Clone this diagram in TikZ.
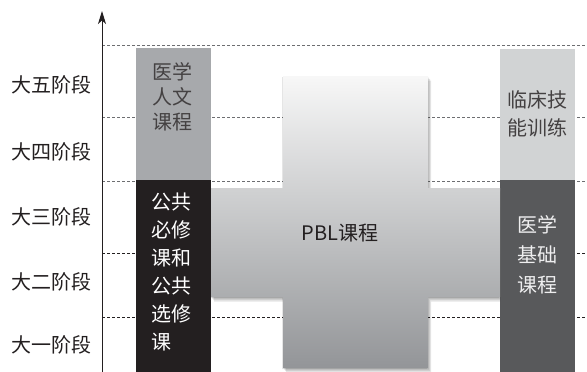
\documentclass[tikz,border=0pt]{standalone}
\usepackage{fontspec}
\newfontfamily\cjk{Noto Sans CJK SC}
\usetikzlibrary{arrows.meta}
\definecolor{ink}{HTML}{231F20}
\definecolor{humgray}{HTML}{A7A9AC}
\definecolor{clinlight}{HTML}{D1D3D4}
\definecolor{basedark}{HTML}{58595B}
\definecolor{pblbot}{HTML}{939598}
\definecolor{dashgray}{HTML}{6D6E71}
\def\pblcross{(283,76) -- (428,76) -- (428,188) -- (500,188) -- (500,297) -- (428,297)
  -- (428,368) -- (283,368) -- (283,297) -- (211,297) -- (211,188) -- (283,188) -- cycle}
\begin{document}
\begin{tikzpicture}[x=1pt,y=-1pt,
  gridline/.style={dash pattern=on 3pt off 2pt, line width=0.6pt, draw=dashgray},
  gridlinedark/.style={dash pattern=on 3pt off 2pt, line width=0.6pt, draw=ink},
  stage/.style={font=\cjk\fontsize{20}{23}\selectfont, text=ink, inner sep=0},
  colbox/.style={anchor=north west, inner sep=0, minimum width=75pt, draw=none},
  boxtxt/.style={inner sep=0, font=\cjk\fontsize{19}{26}\selectfont},
  shadowlayer/.style={fill=black, opacity=0.1}
]
\useasboundingbox (0,0) rectangle (587,372);
% dashed stage lines
\foreach \n/\yy/\st in {a/45/gridline,b/117/gridline,c/181/gridline,d/253/gridlinedark,e/317/gridlinedark}{
  \coordinate (dl\n) at (102,\yy);
  \coordinate (dr\n) at (587,\yy);
  \draw[\st] (dl\n) -- (dr\n);
}
% axis
\coordinate (axb) at (102,372);
\coordinate (axt) at (102,11);
\draw[line width=0.9pt, ink, -{Stealth[length=13pt,width=8pt,inset=3.5pt]}] (axb) -- (axt);
% stage labels
\node[stage] (s5) at (52,85) {大五阶段};
\node[stage] (s4) at (52,152) {大四阶段};
\node[stage] (s3) at (52,217) {大三阶段};
\node[stage] (s2) at (52,282) {大二阶段};
\node[stage] (s1) at (52,345) {大一阶段};
% column boxes
\node[colbox, fill=humgray, minimum height=132pt] (hum) at (136,48) {};
\node[colbox, fill=ink, minimum height=192pt] (pub) at (136,180) {};
\node[colbox, fill=clinlight, minimum height=131pt] (clin) at (500,49) {};
\node[colbox, fill=basedark, minimum height=192pt] (base) at (500,180) {};
% PBL cross: soft shadow layers, then the shaded cross
\begin{scope}
  \clip (211,0) rectangle (500,372);
  \path[shadowlayer, shift={(1,1.5)}] \pblcross;
  \path[shadowlayer, shift={(2,3)}] \pblcross;
  \path[shadowlayer, shift={(3,4.5)}] \pblcross;
  \path[shadowlayer, shift={(-1,1)}] \pblcross;
\end{scope}
\path[top color=white!97!black, bottom color=pblbot] \pblcross;
\node[inner sep=0, font=\cjk\fontsize{20}{23}\selectfont, text=ink] (pbl) at (340,233) {PBL课程};
% box texts
\node[boxtxt, text=ink!85, align=left, font=\cjk\fontsize{20}{25}\selectfont] (humt) at (172,97) {医学\\人文\\课程};
\node[boxtxt, text=white, align=left, anchor=west, font=\cjk\fontsize{20}{28}\selectfont] (pubt) at (151,272) {公共\\必修\\课和\\公共\\选修\\课};
\node[boxtxt, text=ink!85, align=center, font=\cjk\fontsize{20}{28}\selectfont] (clint) at (537,114) {临床技\\能训练};
\node[boxtxt, text=white!90!basedark, align=center, font=\cjk\fontsize{20}{30}\selectfont] (baset) at (537,255) {医学\\基础\\课程};
\end{tikzpicture}
\end{document}
